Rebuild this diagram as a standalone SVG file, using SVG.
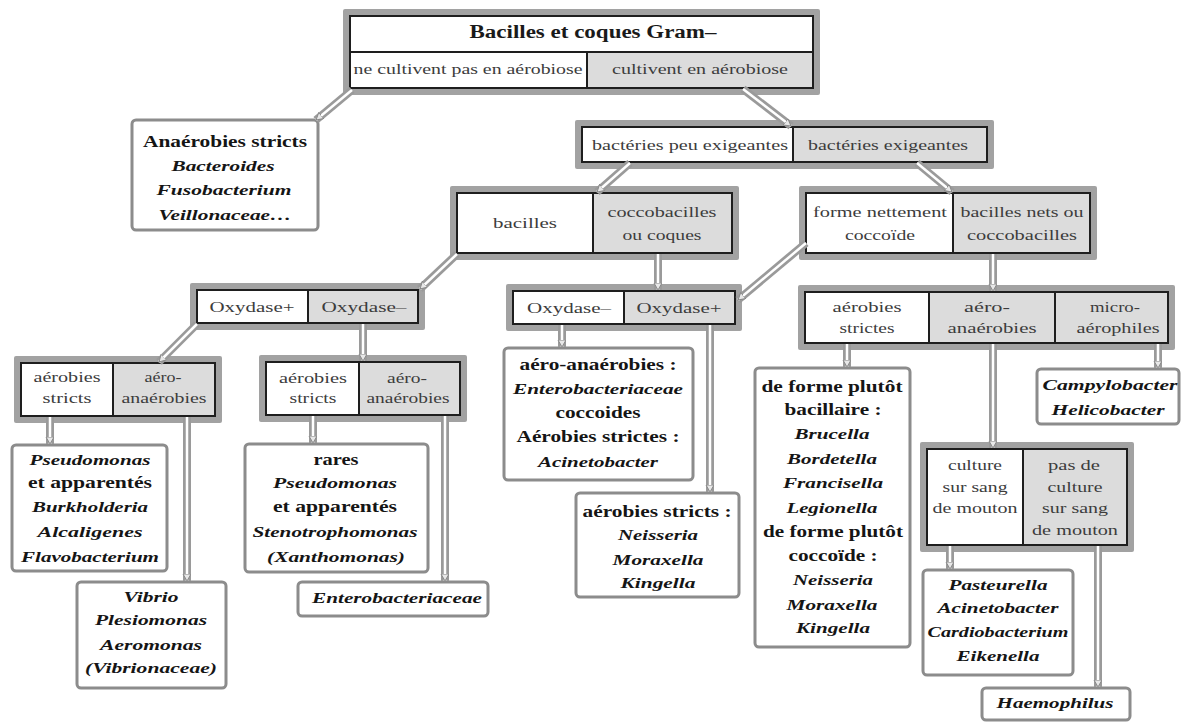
<svg xmlns="http://www.w3.org/2000/svg" width="1187" height="722" viewBox="0 0 1187 722">
<style>
text{font-family:"Liberation Serif","Times New Roman",serif;text-anchor:middle}
.frame{fill:#a2a2a2}
.cw{fill:#ffffff;stroke:#1e1e1e;stroke-width:2}
.cg{fill:#dcdcdc;stroke:#1e1e1e;stroke-width:2}
.leaf{fill:#ffffff;stroke:#8c8c8c;stroke-width:3}
.d{font-size:15px;fill:#3c3c3c}
.t{font-size:18px;font-weight:bold;fill:#1a1a1a}
.b{font-size:17px;font-weight:bold;fill:#151515}
.i{font-size:15px;font-weight:bold;font-style:italic;fill:#151515}
.lg{fill:none;stroke:#9a9a9a;stroke-width:8}
.lw{fill:none;stroke:#ffffff;stroke-width:2.5;marker-end:url(#ah)}
</style>
<defs>
<marker id="ah" markerUnits="userSpaceOnUse" markerWidth="10" markerHeight="10" refX="7" refY="4" orient="auto">
<path d="M0,0 L7,4 L0,8 Z" fill="#e8e8e8" stroke="#888" stroke-width="1"/>
</marker>
</defs>

<g id="n-root">
<rect class="frame" x="343" y="9" width="477" height="86" rx="2"/>
<rect class="cw" x="350" y="16" width="463" height="36"/>
<rect class="cw" x="350" y="52" width="237" height="36"/>
<rect class="cg" x="587" y="52" width="226" height="36"/>
<text class="t" x="593" y="38" textLength="247" lengthAdjust="spacingAndGlyphs">Bacilles et coques Gram–</text>
<text class="d" x="468" y="74" textLength="229" lengthAdjust="spacingAndGlyphs">ne cultivent pas en aérobiose</text>
<text class="d" x="700" y="74" textLength="176" lengthAdjust="spacingAndGlyphs">cultivent en aérobiose</text>
</g>

<g id="n-anaerobies">
<rect class="leaf" x="132" y="120" width="186" height="110" rx="4"/>
<text class="b" x="225" y="147" textLength="164" lengthAdjust="spacingAndGlyphs">Anaérobies stricts</text>
<text class="i" x="223" y="171" textLength="103" lengthAdjust="spacingAndGlyphs">Bacteroides</text>
<text class="i" x="224" y="195" textLength="135" lengthAdjust="spacingAndGlyphs">Fusobacterium</text>
<text class="i" x="225" y="220" textLength="133" lengthAdjust="spacingAndGlyphs">Veillonaceae…</text>
</g>

<g id="n-exigence">
<rect class="frame" x="575" y="120" width="419" height="49" rx="2"/>
<rect class="cw" x="582" y="127" width="211" height="35"/>
<rect class="cg" x="793" y="127" width="194" height="35"/>
<text class="d" x="690" y="150" textLength="196" lengthAdjust="spacingAndGlyphs">bactéries peu exigeantes</text>
<text class="d" x="888" y="150" textLength="160" lengthAdjust="spacingAndGlyphs">bactéries exigeantes</text>
</g>

<g id="n-forme1">
<rect class="frame" x="450" y="186" width="289" height="74" rx="2"/>
<rect class="cw" x="457" y="193" width="136" height="60"/>
<rect class="cg" x="593" y="193" width="139" height="60"/>
<text class="d" x="525" y="228" textLength="64" lengthAdjust="spacingAndGlyphs">bacilles</text>
<text class="d" x="662" y="217" textLength="109" lengthAdjust="spacingAndGlyphs">coccobacilles</text>
<text class="d" x="662" y="240" textLength="79" lengthAdjust="spacingAndGlyphs">ou coques</text>
</g>

<g id="n-forme2">
<rect class="frame" x="799" y="186" width="298" height="74" rx="2"/>
<rect class="cw" x="806" y="193" width="147" height="60"/>
<rect class="cg" x="953" y="193" width="137" height="60"/>
<text class="d" x="880" y="217" textLength="134" lengthAdjust="spacingAndGlyphs">forme nettement</text>
<text class="d" x="880" y="240" textLength="70" lengthAdjust="spacingAndGlyphs">coccoïde</text>
<text class="d" x="1022" y="217" textLength="123" lengthAdjust="spacingAndGlyphs">bacilles nets ou</text>
<text class="d" x="1022" y="240" textLength="110" lengthAdjust="spacingAndGlyphs">coccobacilles</text>
</g>

<g id="n-oxy-left">
<rect class="frame" x="190" y="283" width="235" height="47" rx="2"/>
<rect class="cw" x="197" y="290" width="111" height="33"/>
<rect class="cg" x="308" y="290" width="110" height="33"/>
<text class="d" x="252" y="312" textLength="85" lengthAdjust="spacingAndGlyphs">Oxydase+</text>
<text class="d" x="364" y="312" textLength="85" lengthAdjust="spacingAndGlyphs">Oxydase–</text>
</g>

<g id="n-oxy-mid">
<rect class="frame" x="506" y="284" width="236" height="47" rx="2"/>
<rect class="cw" x="513" y="291" width="111" height="33"/>
<rect class="cg" x="624" y="291" width="111" height="33"/>
<text class="d" x="569" y="313" textLength="84" lengthAdjust="spacingAndGlyphs">Oxydase–</text>
<text class="d" x="679" y="313" textLength="85" lengthAdjust="spacingAndGlyphs">Oxydase+</text>
</g>

<g id="n-resp1">
<rect class="frame" x="14" y="356" width="208" height="67" rx="2"/>
<rect class="cw" x="21" y="363" width="92" height="53"/>
<rect class="cg" x="113" y="363" width="102" height="53"/>
<text class="d" x="67" y="382" textLength="67" lengthAdjust="spacingAndGlyphs">aérobies</text>
<text class="d" x="67" y="403" textLength="49" lengthAdjust="spacingAndGlyphs">stricts</text>
<text class="d" x="163" y="382" textLength="37" lengthAdjust="spacingAndGlyphs">aéro-</text>
<text class="d" x="164" y="403" textLength="85" lengthAdjust="spacingAndGlyphs">anaérobies</text>
</g>

<g id="n-resp2">
<rect class="frame" x="259" y="355" width="208" height="67" rx="2"/>
<rect class="cw" x="266" y="362" width="93" height="53"/>
<rect class="cg" x="359" y="362" width="101" height="53"/>
<text class="d" x="313" y="383" textLength="68" lengthAdjust="spacingAndGlyphs">aérobies</text>
<text class="d" x="313" y="403" textLength="47" lengthAdjust="spacingAndGlyphs">stricts</text>
<text class="d" x="407" y="383" textLength="40" lengthAdjust="spacingAndGlyphs">aéro-</text>
<text class="d" x="408" y="403" textLength="83" lengthAdjust="spacingAndGlyphs">anaérobies</text>
</g>

<g id="n-resp3">
<rect class="frame" x="798" y="285" width="377" height="65" rx="2"/>
<rect class="cw" x="805" y="292" width="124" height="51"/>
<rect class="cg" x="929" y="292" width="126" height="51"/>
<rect class="cg" x="1055" y="292" width="113" height="51"/>
<text class="d" x="867" y="312" textLength="69" lengthAdjust="spacingAndGlyphs">aérobies</text>
<text class="d" x="867" y="333" textLength="55" lengthAdjust="spacingAndGlyphs">strictes</text>
<text class="d" x="987" y="312" textLength="46" lengthAdjust="spacingAndGlyphs">aéro-</text>
<text class="d" x="992" y="333" textLength="89" lengthAdjust="spacingAndGlyphs">anaérobies</text>
<text class="d" x="1115" y="312" textLength="50" lengthAdjust="spacingAndGlyphs">micro-</text>
<text class="d" x="1118" y="333" textLength="83" lengthAdjust="spacingAndGlyphs">aérophiles</text>
</g>

<g id="n-sang">
<rect class="frame" x="920" y="442" width="214" height="110" rx="2"/>
<rect class="cw" x="927" y="449" width="96" height="96"/>
<rect class="cg" x="1023" y="449" width="104" height="96"/>
<text class="d" x="975" y="470" textLength="54" lengthAdjust="spacingAndGlyphs">culture</text>
<text class="d" x="975" y="492" textLength="65" lengthAdjust="spacingAndGlyphs">sur sang</text>
<text class="d" x="975" y="513" textLength="85" lengthAdjust="spacingAndGlyphs">de mouton</text>
<text class="d" x="1074" y="470" textLength="52" lengthAdjust="spacingAndGlyphs">pas de</text>
<text class="d" x="1075" y="492" textLength="55" lengthAdjust="spacingAndGlyphs">culture</text>
<text class="d" x="1075" y="513" textLength="66" lengthAdjust="spacingAndGlyphs">sur sang</text>
<text class="d" x="1075" y="535" textLength="86" lengthAdjust="spacingAndGlyphs">de mouton</text>
</g>

<g id="n-pseudomonas">
<rect class="leaf" x="12" y="445" width="155" height="126" rx="4"/>
<text class="i" x="90" y="465" textLength="121" lengthAdjust="spacingAndGlyphs">Pseudomonas</text>
<text class="b" x="90" y="488" textLength="124" lengthAdjust="spacingAndGlyphs">et apparentés</text>
<text class="i" x="90" y="512" textLength="116" lengthAdjust="spacingAndGlyphs">Burkholderia</text>
<text class="i" x="90" y="537" textLength="105" lengthAdjust="spacingAndGlyphs">Alcaligenes</text>
<text class="i" x="90" y="562" textLength="138" lengthAdjust="spacingAndGlyphs">Flavobacterium</text>
</g>

<g id="n-vibrio">
<rect class="leaf" x="77" y="582" width="149" height="106" rx="4"/>
<text class="i" x="151" y="602" textLength="55" lengthAdjust="spacingAndGlyphs">Vibrio</text>
<text class="i" x="151" y="625" textLength="112" lengthAdjust="spacingAndGlyphs">Plesiomonas</text>
<text class="i" x="151" y="650" textLength="102" lengthAdjust="spacingAndGlyphs">Aeromonas</text>
<text class="i" x="151" y="673" textLength="132" lengthAdjust="spacingAndGlyphs">(Vibrionaceae)</text>
</g>

<g id="n-rares">
<rect class="leaf" x="245" y="444" width="183" height="128" rx="4"/>
<text class="b" x="336" y="465" textLength="45" lengthAdjust="spacingAndGlyphs">rares</text>
<text class="i" x="335" y="488" textLength="124" lengthAdjust="spacingAndGlyphs">Pseudomonas</text>
<text class="b" x="335" y="512" textLength="124" lengthAdjust="spacingAndGlyphs">et apparentés</text>
<text class="i" x="335" y="537" textLength="165" lengthAdjust="spacingAndGlyphs">Stenotrophomonas</text>
<text class="i" x="336" y="562" textLength="138" lengthAdjust="spacingAndGlyphs">(Xanthomonas)</text>
</g>

<g id="n-entero">
<rect class="leaf" x="298" y="582" width="190" height="34" rx="4"/>
<text class="i" x="397" y="603" textLength="170" lengthAdjust="spacingAndGlyphs">Enterobacteriaceae</text>
</g>

<g id="n-aeroana">
<rect class="leaf" x="504" y="348" width="189" height="132" rx="4"/>
<text class="b" x="598" y="370" textLength="157" lengthAdjust="spacingAndGlyphs">aéro-anaérobies :</text>
<text class="i" x="598" y="394" textLength="170" lengthAdjust="spacingAndGlyphs">Enterobacteriaceae</text>
<text class="b" x="598" y="418" textLength="85" lengthAdjust="spacingAndGlyphs">coccoides</text>
<text class="b" x="598" y="442" textLength="163" lengthAdjust="spacingAndGlyphs">Aérobies strictes :</text>
<text class="i" x="598" y="467" textLength="120" lengthAdjust="spacingAndGlyphs">Acinetobacter</text>
</g>

<g id="n-neisseria">
<rect class="leaf" x="576" y="493" width="163" height="104" rx="4"/>
<text class="b" x="657" y="517" textLength="149" lengthAdjust="spacingAndGlyphs">aérobies stricts :</text>
<text class="i" x="658" y="540" textLength="80" lengthAdjust="spacingAndGlyphs">Neisseria</text>
<text class="i" x="658" y="565" textLength="91" lengthAdjust="spacingAndGlyphs">Moraxella</text>
<text class="i" x="658" y="588" textLength="75" lengthAdjust="spacingAndGlyphs">Kingella</text>
</g>

<g id="n-forme-plutot">
<rect class="leaf" x="755" y="368" width="155" height="279" rx="4"/>
<text class="b" x="832" y="392" textLength="141" lengthAdjust="spacingAndGlyphs">de forme plutôt</text>
<text class="b" x="833" y="415" textLength="97" lengthAdjust="spacingAndGlyphs">bacillaire :</text>
<text class="i" x="832" y="439" textLength="75" lengthAdjust="spacingAndGlyphs">Brucella</text>
<text class="i" x="832" y="464" textLength="90" lengthAdjust="spacingAndGlyphs">Bordetella</text>
<text class="i" x="833" y="488" textLength="100" lengthAdjust="spacingAndGlyphs">Francisella</text>
<text class="i" x="832" y="513" textLength="91" lengthAdjust="spacingAndGlyphs">Legionella</text>
<text class="b" x="833" y="537" textLength="140" lengthAdjust="spacingAndGlyphs">de forme plutôt</text>
<text class="b" x="833" y="561" textLength="89" lengthAdjust="spacingAndGlyphs">coccoïde :</text>
<text class="i" x="833" y="585" textLength="80" lengthAdjust="spacingAndGlyphs">Neisseria</text>
<text class="i" x="832" y="610" textLength="91" lengthAdjust="spacingAndGlyphs">Moraxella</text>
<text class="i" x="833" y="633" textLength="74" lengthAdjust="spacingAndGlyphs">Kingella</text>
</g>

<g id="n-campylo">
<rect class="leaf" x="1037" y="369" width="142" height="55" rx="4"/>
<text class="i" x="1110" y="390" textLength="135" lengthAdjust="spacingAndGlyphs">Campylobacter</text>
<text class="i" x="1108" y="415" textLength="113" lengthAdjust="spacingAndGlyphs">Helicobacter</text>
</g>

<g id="n-pasteurella">
<rect class="leaf" x="923" y="570" width="150" height="105" rx="4"/>
<text class="i" x="998" y="590" textLength="99" lengthAdjust="spacingAndGlyphs">Pasteurella</text>
<text class="i" x="998" y="613" textLength="121" lengthAdjust="spacingAndGlyphs">Acinetobacter</text>
<text class="i" x="998" y="637" textLength="141" lengthAdjust="spacingAndGlyphs">Cardiobacterium</text>
<text class="i" x="998" y="661" textLength="83" lengthAdjust="spacingAndGlyphs">Eikenella</text>
</g>

<g id="n-haemophilus">
<rect class="leaf" x="982" y="688" width="148" height="32" rx="4"/>
<text class="i" x="1055" y="708" textLength="117" lengthAdjust="spacingAndGlyphs">Haemophilus</text>
</g>

<g id="connectors">
<path class="lg" d="M352,90 L316,120"/><path class="lw" d="M352,90 L316,120"/>
<path class="lg" d="M743,89 L791,126"/><path class="lw" d="M743,89 L791,126"/>
<path class="lg" d="M630,163 L597,192"/><path class="lw" d="M630,163 L597,192"/>
<path class="lg" d="M917,163 L952,192"/><path class="lw" d="M917,163 L952,192"/>
<path class="lg" d="M457,254 L420,289"/><path class="lw" d="M457,254 L420,289"/>
<path class="lg" d="M658,254 L658,290"/><path class="lw" d="M658,254 L658,290"/>
<path class="lg" d="M806,243 L738,300"/><path class="lw" d="M806,243 L738,300"/>
<path class="lg" d="M993,254 L993,291"/><path class="lw" d="M993,254 L993,291"/>
<path class="lg" d="M197,324 L159,362"/><path class="lw" d="M197,324 L159,362"/>
<path class="lg" d="M363,324 L363,361"/><path class="lw" d="M363,324 L363,361"/>
<path class="lg" d="M50,417 L50,444"/><path class="lw" d="M50,417 L50,444"/>
<path class="lg" d="M187,417 L187,581"/><path class="lw" d="M187,417 L187,581"/>
<path class="lg" d="M313,416 L313,443"/><path class="lw" d="M313,416 L313,443"/>
<path class="lg" d="M445,416 L445,581"/><path class="lw" d="M445,416 L445,581"/>
<path class="lg" d="M562,325 L562,347"/><path class="lw" d="M562,325 L562,347"/>
<path class="lg" d="M710,325 L710,492"/><path class="lw" d="M710,325 L710,492"/>
<path class="lg" d="M847,344 L847,367"/><path class="lw" d="M847,344 L847,367"/>
<path class="lg" d="M993,344 L993,448"/><path class="lw" d="M993,344 L993,448"/>
<path class="lg" d="M1158,344 L1158,368"/><path class="lw" d="M1158,344 L1158,368"/>
<path class="lg" d="M950,546 L950,569"/><path class="lw" d="M950,546 L950,569"/>
<path class="lg" d="M1098,546 L1098,687"/><path class="lw" d="M1098,546 L1098,687"/>
</g>
</svg>
